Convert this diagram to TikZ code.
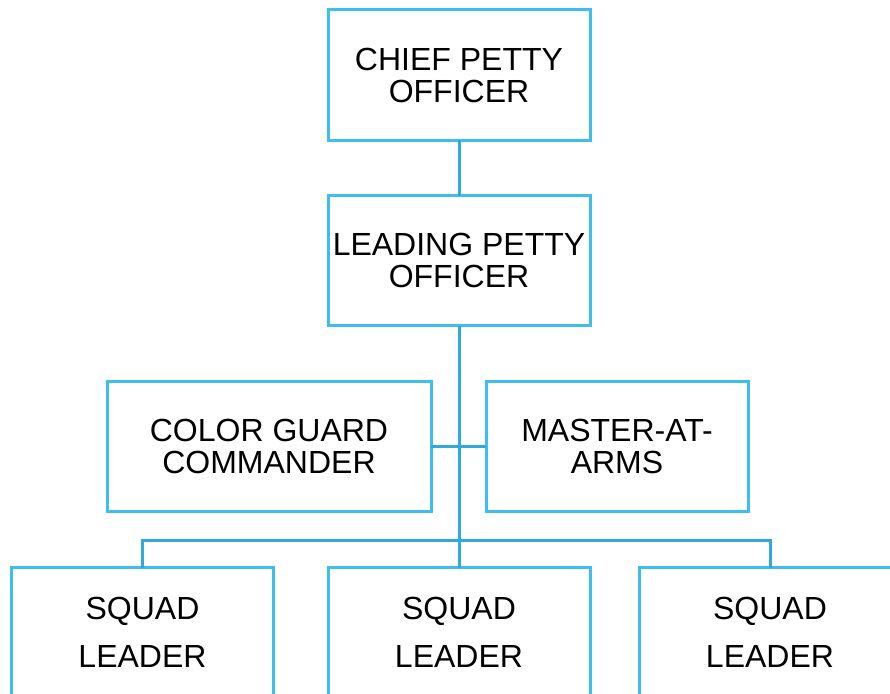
\documentclass[tikz,border=0pt]{standalone}
\usepackage{fontspec}
\setmainfont{Liberation Sans}
\usepackage{tikz}

\definecolor{boxblue}{HTML}{3DBEEE}
\definecolor{lineblue}{HTML}{2FAADB}

\begin{document}
\begin{tikzpicture}[x=1pt,y=-1pt]
            \tikzstyle{every node}+=[inner sep=0pt, outer sep=0pt]
            \tikzstyle{rankbox}=[draw=boxblue, line width=3pt, fill=white, align=center, minimum height=130pt, font=\fontsize{32}{32}\selectfont]
            \tikzstyle{squadbox}=[rankbox, minimum width=262pt, font=\fontsize{32}{48}\selectfont]
            \tikzstyle{link}=[draw=lineblue, line width=3pt]
            \useasboundingbox (0,0) rectangle (890,693);
            \clip (0,0) rectangle (890,693);
            % bus coordinates
            \coordinate (busL) at (142.5,540);
            \coordinate (busR) at (770,540);
            \node [rankbox, minimum width=262pt] (cpo) at (459,75) {CHIEF PETTY\\OFFICER};
            \node [rankbox, minimum width=262pt] (lpo) at (459,260.5) {LEADING PETTY\\OFFICER};
            \node [rankbox, minimum width=324pt] (cgc) at (269,446.5) {COLOR GUARD\\COMMANDER};
            \node [rankbox, minimum width=262pt] (maa) at (617,446.5) {MASTER-AT-\\ARMS};
            \node [squadbox] (sqa) at (142.5,632.5) {SQUAD\\LEADER};
            \node [squadbox] (sqb) at (459,632.5) {SQUAD\\LEADER};
            \node [squadbox] (sqc) at (770,632.5) {SQUAD\\LEADER};
            \draw [link] (cpo.south) -- (lpo.north);
            \draw [link] (lpo.south) -- (sqb.north);
            \draw [link] (cgc.east) -- (maa.west);
            \draw [link] (sqa.north) -- (busL) -- (busR) -- (sqc.north);
\end{tikzpicture}
\end{document}
